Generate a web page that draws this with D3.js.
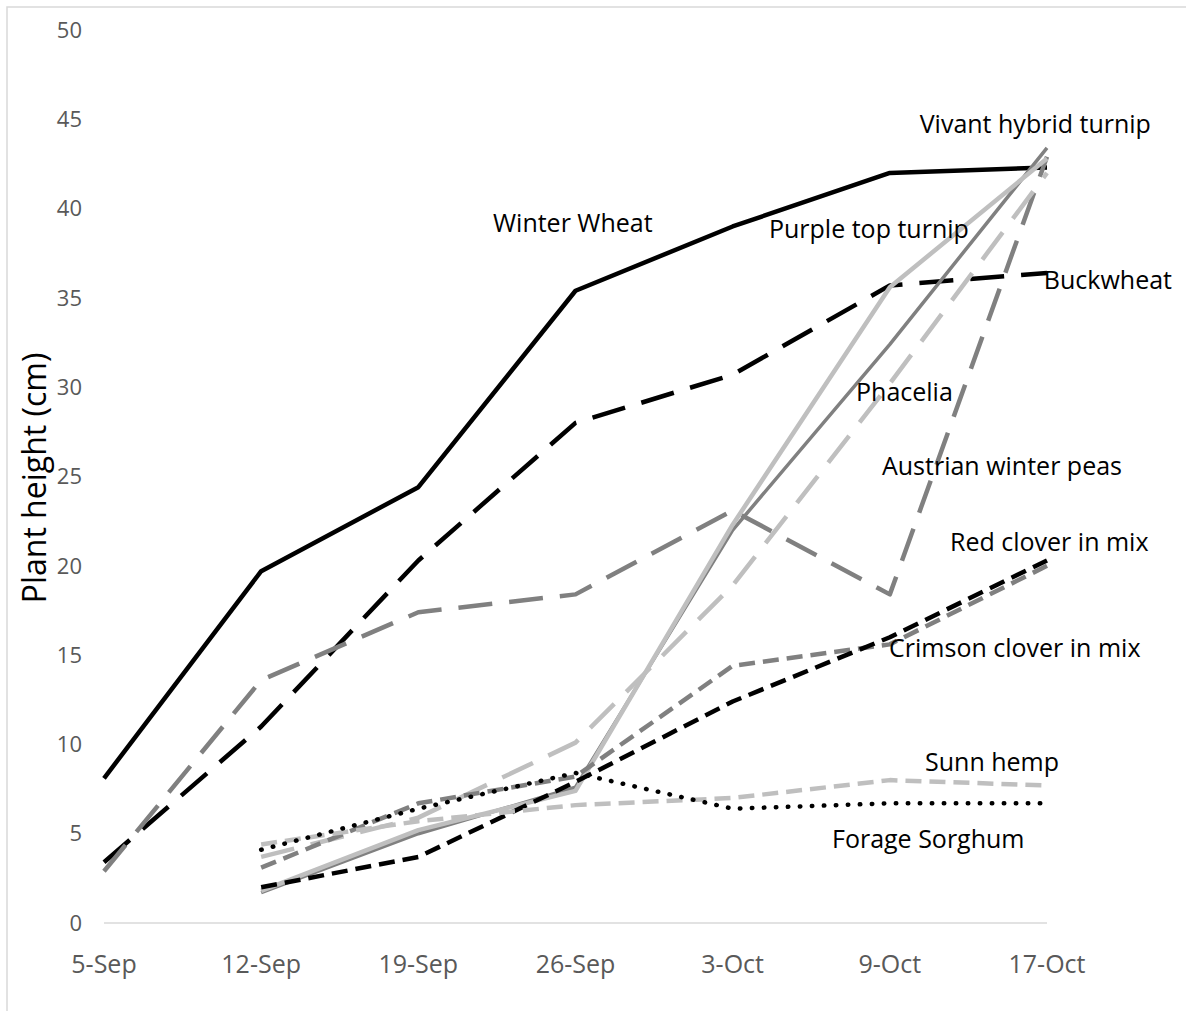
<!DOCTYPE html>
<meta charset="utf-8">
<style>
    body { margin: 0; background: #fff; }
    svg { font-family: "Open Sans", sans-serif; }
    .tick-label { fill: #595959; }
    .note { fill: #000; font-size: 25px; }
    path.line { fill: none; stroke-linejoin: round; }
</style>
<body>
<script src="https://cdn.jsdelivr.net/npm/d3@7"></script>
<script>

    // categories
    var dates = ["5-Sep", "12-Sep", "19-Sep", "26-Sep", "3-Oct", "9-Oct", "17-Oct"];
    var yTicks = [0, 5, 10, 15, 20, 25, 30, 35, 40, 45, 50];

    // plant height (cm), null = not measured
    var winterWheat   = [8.1, 19.7, 24.4, 35.4, 39.0, 42.0, 42.3];
    var buckwheat     = [3.4, 11.0, 20.3, 28.0, 30.7, 35.7, 36.4];
    var austrianPeas  = [2.9, 13.6, 17.4, 18.4, 23.1, 18.4, 42.9];
    var vivantTurnip  = [null, 1.7, 5.0, 7.6, 22.0, 32.4, 43.4];
    var purpleTurnip  = [null, 1.8, 5.2, 7.4, 22.3, 35.6, 42.8];
    var phacelia      = [null, 3.7, 5.9, 10.1, 18.9, 30.2, 42.0];
    var crimsonClover = [null, 3.1, 6.7, 8.2, 14.4, 15.6, 20.0];
    var redClover     = [null, 2.0, 3.7, 7.9, 12.4, 16.0, 20.3];
    var sunnHemp      = [null, 4.4, 5.7, 6.6, 7.0, 8.0, 7.7];
    var forageSorghum = [null, 4.1, 6.4, 8.4, 6.4, 6.7, 6.7];

    var width = 1186, height = 1011;

    var svg = d3.select("body").append("svg")
            .attr("width", width)
            .attr("height", height);

    // outer chart border (only left/top edges fall inside the picture)
    svg.append("rect")
            .attr("x", 7).attr("y", 7)
            .attr("width", 1190).attr("height", 1020)
            .attr("fill", "none")
            .attr("stroke", "#d9d9d9")
            .attr("stroke-width", 1.5);

    var x = d3.scalePoint()
            .domain(dates)
            .range([104, 1047]);

    var y = d3.scaleLinear()
            .domain([0, 50])
            .range([923, 30]);

    // fractional category position, used for the text notes
    var xf = d3.scaleLinear().domain([0, dates.length - 1]).range(x.range());

    // axis line
    svg.append("line")
            .attr("x1", x.range()[0]).attr("x2", x.range()[1])
            .attr("y1", y(0)).attr("y2", y(0))
            .attr("stroke", "#d9d9d9")
            .attr("stroke-width", 1.5);

    svg.append("g").selectAll("text")
            .data(yTicks)
            .enter().append("text")
            .attr("class", "tick-label")
            .attr("x", 82)
            .attr("y", function(d) { return y(d); })
            .attr("dy", "0.35em")
            .style("font-size", "22px")
            .style("text-anchor", "end")
            .text(function(d) { return d; });

    svg.append("g").selectAll("text")
            .data(dates)
            .enter().append("text")
            .attr("class", "tick-label")
            .attr("x", function(d) { return x(d); })
            .attr("y", 973)
            .style("font-size", "25px")
            .style("text-anchor", "middle")
            .text(function(d) { return d; });

    svg.append("text")
            .attr("transform", "translate(46,478) rotate(-90)")
            .style("font-size", "32px")
            .style("text-anchor", "middle")
            .text("Plant height (cm)");

    var series = [
        {values: winterWheat,   color: "#000",    w: 4.5, dash: null},
        {values: buckwheat,     color: "#000",    w: 4.5, dash: "34,17"},
        {values: austrianPeas,  color: "#808080", w: 4.5, dash: "34,17"},
        {values: vivantTurnip,  color: "#808080", w: 3.5, dash: null},
        {values: purpleTurnip,  color: "#bfbfbf", w: 4.5, dash: null},
        {values: phacelia,      color: "#bfbfbf", w: 4.5, dash: "34,17"},
        {values: crimsonClover, color: "#808080", w: 4.5, dash: "16,8"},
        {values: redClover,     color: "#000",    w: 4.5, dash: "16,8"},
        {values: sunnHemp,      color: "#bfbfbf", w: 4.5, dash: "16,8"},
        {values: forageSorghum, color: "#000",    w: 4.5, dash: "0.5,11.5", cap: "round"}
    ];

    var line = d3.line()
            .defined(function(d) { return d != null; })
            .x(function(d, i) { return x(dates[i]); })
            .y(function(d) { return y(d); });

    svg.append("g").selectAll("path")
            .data(series)
            .enter().append("path")
            .attr("class", "line")
            .attr("d", function(s) { return line(s.values); })
            .attr("stroke", function(s) { return s.color; })
            .attr("stroke-width", function(s) { return s.w; })
            .attr("stroke-dasharray", function(s) { return s.dash; })
            .attr("stroke-linecap", function(s) { return s.cap || "butt"; });

    // text notes: [label, category position, height]
    var notes = [
        ["Vivant hybrid turnip", 5.19, 44.23],
        ["Winter Wheat", 2.475, 38.69],
        ["Purple top turnip", 4.231, 38.35],
        ["Buckwheat", 5.98, 35.5],
        ["Phacelia", 4.785, 29.23],
        ["Austrian winter peas", 4.95, 25.08],
        ["Red clover in mix", 5.383, 20.83],
        ["Crimson clover in mix", 4.995, 14.89],
        ["Sunn hemp", 5.224, 8.51],
        ["Forage Sorghum", 4.632, 4.2]
    ];

    svg.append("g").selectAll("text")
            .data(notes)
            .enter().append("text")
            .attr("class", "note")
            .attr("x", function(d) { return xf(d[1]); })
            .attr("y", function(d) { return y(d[2]); })
            .text(function(d) { return d[0]; });

</script>
